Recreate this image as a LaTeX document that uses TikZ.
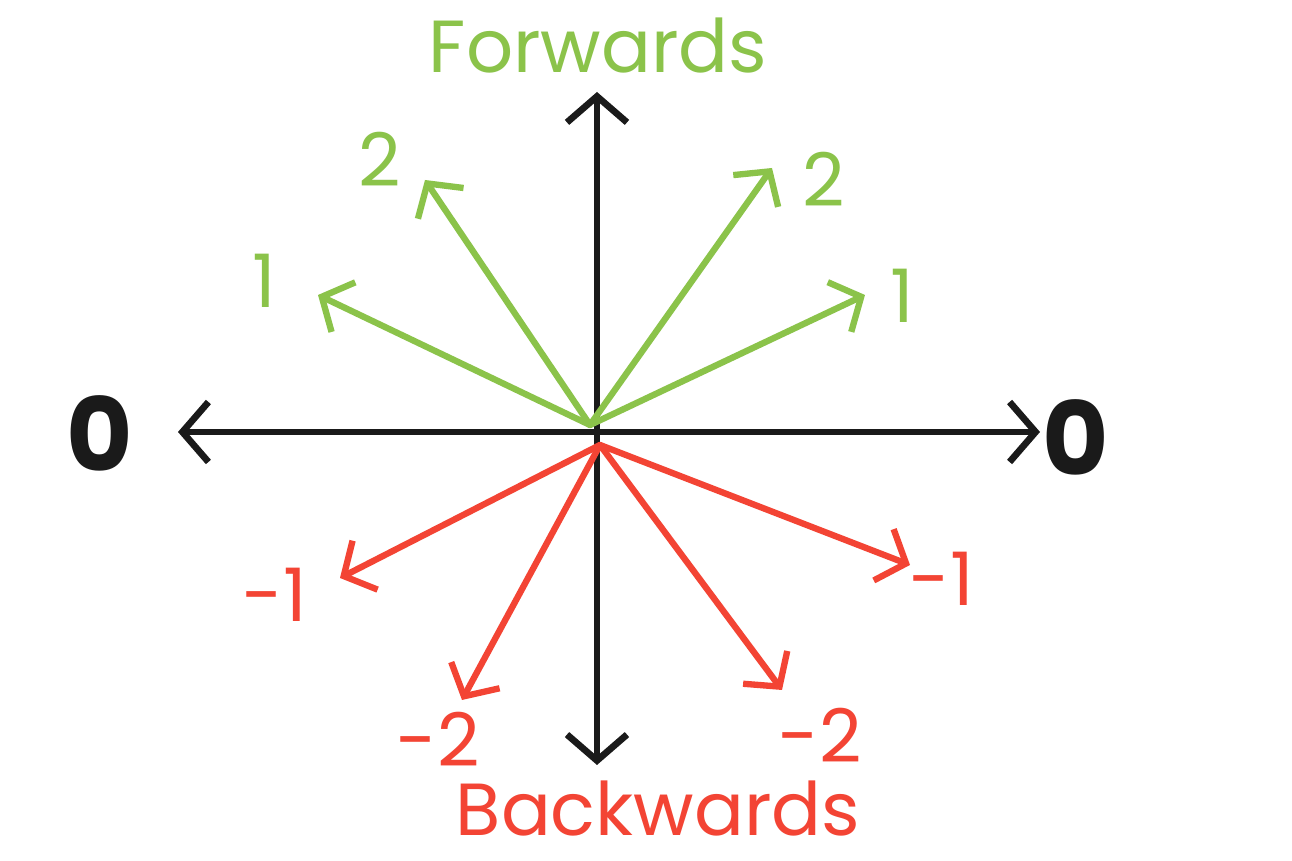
\documentclass[tikz,border=0pt]{standalone}
\usepackage{fontspec}
\setmainfont{Poppins}
\usetikzlibrary{arrows.meta}
\definecolor{fgreen}{RGB}{139,195,74}
\definecolor{bred}{RGB}{243,68,52}
\definecolor{ink}{RGB}{26,26,26}
\tikzset{
  axis/.style={ink, line width=1.9pt, line cap=round, {Straight Barb[length=2.6mm,width=6mm,line width=1.9pt]}-{Straight Barb[length=2.6mm,width=6mm,line width=1.9pt]}},
  garrow/.style={fgreen, line width=1.8pt, line cap=round, -{Straight Barb[length=2.4mm,width=5.5mm,line width=1.8pt]}},
  rarrow/.style={bred, line width=1.8pt, line cap=round, -{Straight Barb[length=2.4mm,width=5.5mm,line width=1.8pt]}},
  glab/.style={fgreen, font=\fontsize{21}{21}\selectfont},
  rlab/.style={bred, font=\fontsize{21}{21}\selectfont},
  klab/.style={ink, font=\fontsize{29}{29}\selectfont\bfseries},
  title/.style={font=\fontsize{21}{21}\selectfont, inner sep=1pt}
}
\begin{document}
\begin{tikzpicture}
\useasboundingbox (0,0) rectangle (12.92,8.61);
\fill[white] (0,0) rectangle (12.92,8.61);
\coordinate (o) at (5.97,4.29);
\coordinate (gc) at (5.90,4.36);
\coordinate (rc) at (6.00,4.16);
\coordinate (top) at (5.97,7.69);
\coordinate (bot) at (5.97,0.96);
\coordinate (lft) at (1.78,4.29);
\coordinate (rgt) at (10.40,4.29);
\draw[axis] (lft) -- (rgt);
\draw[axis] (bot) -- (top);
\node[klab] (l0) at (1.00,4.27) {0};
\node[klab] (r0) at (10.76,4.23) {0};
\node[title, fgreen] (fw) at (5.98,8.15) {Forwards};
\node[title, bred] (bw) at (6.58,0.52) {Backwards};
% green
\coordinate (g1) at (3.18,5.66);
\coordinate (g2) at (4.25,6.81);
\coordinate (g3) at (7.72,6.93);
\coordinate (g4) at (8.65,5.66);
\draw[garrow] (gc) -- (g1);
\draw[garrow] (gc) -- (g2);
\draw[garrow] (gc) -- (g3);
\draw[garrow] (gc) -- (g4);
\node[glab] (lg1) at (2.64,5.80) {1};
\node[glab] (lg2) at (3.80,7.02) {2};
\node[glab] (lg3) at (8.24,6.82) {2};
\node[glab] (lg4) at (9.02,5.65) {1};
% red
\coordinate (r1) at (3.40,2.83);
\coordinate (r2) at (4.62,1.61);
\coordinate (r3) at (7.82,1.71);
\coordinate (r4) at (9.10,2.96);
\draw[rarrow] (rc) -- (r1);
\draw[rarrow] (rc) -- (r2);
\draw[rarrow] (rc) -- (r3);
\draw[rarrow] (rc) -- (r4);
\node[rlab] (lr1) at (2.75,2.66) {-1};
\node[rlab] (lr2) at (4.38,1.22) {-2};
\node[rlab] (lr3) at (8.20,1.26) {-2};
\node[rlab] (lr4) at (9.42,2.82) {-1};
\end{tikzpicture}
\end{document}
